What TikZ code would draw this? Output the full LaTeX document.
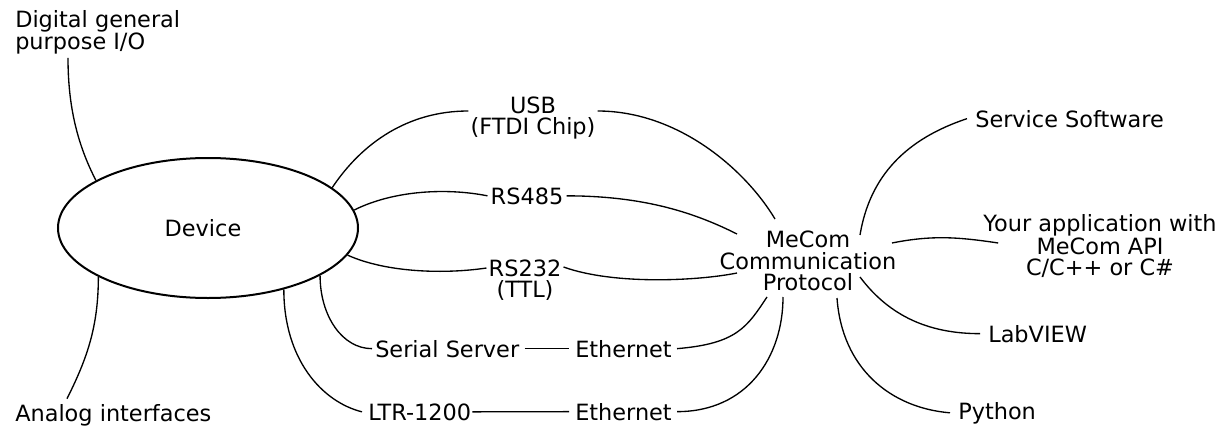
\documentclass[tikz,border=0pt]{standalone}
\usepackage{fontspec}
\setmainfont{DejaVu Sans}
\usetikzlibrary{calc,shapes.geometric}
\tikzset{
  lbl/.style={inner sep=0pt, font=\fontsize{16.8}{15.9}\selectfont, align=center},
  conn/.style={line width=1pt, black},
  devbox/.style={ellipse, draw, line width=1.5pt, minimum width=225pt, minimum height=105pt, inner sep=0pt, font=\fontsize{16.8}{15.9}\selectfont}
}
\begin{document}
\begin{tikzpicture}[x=0.75pt, y=-0.75pt]
\useasboundingbox (0,0) rectangle (1227,428);
% nodes
\node[devbox] (dev) at (208,228) {};
\node[lbl] (devtxt) at (203,228) {Device};
\node[lbl, anchor=north west, align=left] (dig) at (15,10) {Digital general\\purpose I/O};
\node[lbl, anchor=base west] (ana) at (15,421) {Analog interfaces};
\node[lbl] (usb) at (533,118) {USB\\(FTDI Chip)};
\node[lbl, anchor=base] (rs485) at (527,204) {RS485};
\node[lbl] (rs232) at (525,280) {RS232\\(TTL)};
\node[lbl, anchor=base west] (ss) at (375,357) {Serial Server};
\node[lbl, anchor=base west] (eth1) at (575,357) {Ethernet};
\node[lbl, anchor=base west] (ltr) at (368,420) {LTR-1200};
\node[lbl, anchor=base west] (eth2) at (575,420) {Ethernet};
\node[lbl] (mecom) at (808,261) {MeCom\\Communication\\Protocol};
\node[lbl, anchor=base west] (svc) at (975,127) {Service Software};
\node[lbl] (app) at (1100,246) {Your application with\\MeCom API\\C/C++ or C\#};
\node[lbl, anchor=base west] (lab) at (988,342) {LabVIEW};
\node[lbl, anchor=base west] (py) at (958,419) {Python};
% left side
\draw[conn] ($(dig.south west)+(53,3)$) .. controls +(0,50) and +(-18,-35) .. (dev.157);
\draw[conn] ($(ana.north west)+(52,-5)$) .. controls +(20,-40) and +(0,50) .. (dev.204);
% USB
\draw[conn] (dev.18.6) .. controls +(30,-45) and +(-60,0) .. ($(usb.west)+(-2,-7)$);
\draw[conn] ($(usb.east)+(2,-7)$) .. controls +(80,0) and +(-30,-50) .. ($(mecom)+(-33,-42)$);
% RS485
\draw[conn] (dev.7) .. controls +(40,-20) and +(-40,-8) .. ($(rs485.west)+(-3,0)$);
\draw[conn] ($(rs485.east)+(3,0)$) .. controls +(80,0) and +(-40,-20) .. ($(mecom)+(-71,-27)$);
% RS232
\draw[conn] (dev.349) .. controls +(40,18) and +(-40,6) .. ($(rs232.west)+(-2,-12)$);
\draw[conn] ($(rs232.east)+(2,-13)$) .. controls +(50,18) and +(-40,8) .. ($(mecom)+(-71,12)$);
% Serial server
\draw[conn] (dev.337.6) .. controls +(0,40) and +(-30,0) .. ($(ss.west)+(-3,0)$);
\draw[conn] ($(ss.east)+(5,0)$) -- ($(eth1.west)+(-6,0)$);
\draw[conn] ($(eth1.east)+(5,0)$) .. controls +(60,-5) and +(-20,30) .. ($(mecom)+(-41,36)$);
% LTR
\draw[conn] (dev.321) .. controls +(0,70) and +(-40,-10) .. ($(ltr.west)+(-6,0)$);
\draw[conn] ($(ltr.east)+(1,0)$) -- ($(eth2.west)+(-6,0)$);
\draw[conn] ($(eth2.east)+(5,0)$) .. controls +(70,0) and +(0,60) .. ($(mecom)+(-25,36)$);
% right side
\draw[conn] ($(mecom)+(52,-26)$) .. controls +(10,-60) and +(-60,20) .. ($(svc.west)+(-8,0)$);
\draw[conn] ($(mecom)+(84,-18)$) .. controls +(40,-8) and +(-40,-6) .. ($(app.west)+(15,-3)$);
\draw[conn] ($(mecom)+(52,16)$) .. controls +(30,40) and +(-50,0) .. ($(lab.west)+(-8,0)$);
\draw[conn] ($(mecom)+(29,37)$) .. controls +(5,70) and +(-60,-5) .. ($(py.west)+(-8,0)$);
\end{tikzpicture}
\end{document}
